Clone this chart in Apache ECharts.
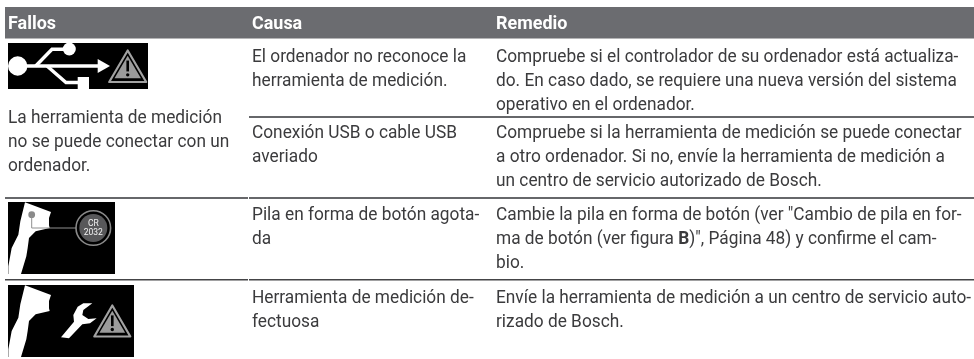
<!DOCTYPE html>
<html><head><meta charset="utf-8">
<style>html,body{margin:0;padding:0;background:#fff}#c{width:974px;height:359px}</style>
<script src="https://cdn.jsdelivr.net/npm/echarts@6/dist/echarts.min.js"></script>
</head><body><div id="c"></div>
<script>
const headers = ["Fallos", "Causa", "Remedio"];
const faultLines = ["La herramienta de medición", "no se puede conectar con un", "ordenador."];
const causeRows = [
  ["El ordenador no reconoce la", "herramienta de medición."],
  ["Conexión USB o cable USB", "averiado"],
  ["Pila en forma de botón agota-", "da"],
  ["Herramienta de medición de-", "fectuosa"]
];
const remedyRows = [
  ["Compruebe si el controlador de su ordenador está actualiza-", "do. En caso dado, se requiere una nueva versión del sistema", "operativo en el ordenador."],
  ["Compruebe si la herramienta de medición se puede conectar", "a otro ordenador. Si no, envíe la herramienta de medición a", "un centro de servicio autorizado de Bosch."],
  ["Cambie la pila en forma de botón (ver \"Cambio de pila en for-", "ma de botón (ver figura {b|B})\", Página 48) y confirme el cam-", "bio."],
  ["Envíe la herramienta de medición a un centro de servicio auto-", "rizado de Bosch."]
];
const badgeLines = ["CR", "2032"];

const FONT = "Roboto";
const FS = 18, SX = 0.96, LH = 24, INK = "#3b3b3d";
const els = [];
const rect = (x, y, w, h, fill) => els.push({type:"rect", silent:true, shape:{x, y, width:w, height:h}, style:{fill}});
const poly = (pts, fill, ox=0, oy=0, stroke, lw) => els.push({type:"polygon", silent:true, shape:{points:pts.map(p=>[p[0]+ox,p[1]+oy])}, style:{fill, stroke, lineWidth:lw||0, lineJoin:"round"}});
const pline = (pts, stroke, lw) => els.push({type:"polyline", silent:true, shape:{points:pts}, style:{stroke, lineWidth:lw, fill:null}});
const circ = (cx, cy, r, fill, stroke, lw) => els.push({type:"circle", silent:true, shape:{cx, cy, r}, style:{fill, stroke, lineWidth:lw||0}});
const text = (t, x, y, opt={}) => els.push({type:"text", silent:true, x, y, scaleX:opt.sx||SX, originX:0, style:{
  text:t, x:0, y:0, fill:opt.fill||INK, font:`${opt.weight||"normal"} ${opt.size||FS}px ${FONT}`,
  fontFamily:FONT, fontSize:opt.size||FS, fontWeight:opt.weight||"normal",
  align:opt.align||"left", verticalAlign:"middle",
  rich:{b:{fontWeight:"bold", fontFamily:FONT, fontSize:FS, fill:INK}}
}});

// table frame
rect(5, 7, 969, 31, "#6b6c70");
rect(5, 38, 969, 1, "#b4b4b6");
rect(249, 116, 725, 2, "#66676a");
rect(5, 197, 243, 2, "#66676a");
rect(249, 197, 725, 2, "#66676a");
rect(5, 279, 243, 1.5, "#444446");
rect(249, 279, 725, 1.5, "#444446");

// headers
const colX = [8, 252, 496];
headers.forEach((h,i)=>text(h, colX[i], 24, {fill:"#fff", weight:"bold", size:18.5, sx:0.97}));

// body text
const rowY = [57, 133, 215, 298];
faultLines.forEach((l,i)=>text(l, 8, 118+i*LH, {}));
causeRows.forEach((r,k)=>r.forEach((l,i)=>text(l, 252, rowY[k]+i*LH)));
remedyRows.forEach((r,k)=>r.forEach((l,i)=>text(l, 496, rowY[k]+i*LH)));

// warning triangle icon
function warn(tx, ty, base, h){
  const hb = base/2;
  poly([[tx,ty+1.5],[tx-hb+1.5,ty+h-1],[tx+hb-1.5,ty+h-1]], "#000", 0, 0, "#a2a2a2", 2.2);
  const j = 0.66;
  poly([[tx,ty+h*0.2],[tx-hb*j,ty+h*0.86],[tx+hb*j,ty+h*0.86]], "#9b9b9b");
  rect(tx-1.3, ty+h*0.34, 2.6, h*0.32, "#000");
  circ(tx, ty+h*0.76, 1.7, "#000");
}

// USB icon
rect(8, 43, 140, 46, "#000");
circ(17.7, 66, 9.7, "#fff");
pline([[18,66],[100,66]], "#fff", 3.4);
poly([[97.7,59],[110,66],[97.7,73]], "#fff");
pline([[35.7,66],[52,49.3],[68,49.3]], "#fff", 3.4);
circ(69.3, 49, 6.5, "#fff");
pline([[47,66],[66,82.5],[80,82.5]], "#fff", 3.4);
rect(77.7, 77, 11.3, 12, "#fff");
warn(127.7, 49, 40, 34);

// gun silhouette, traced in a 3x grid
const gun = [[60,13],[138,42],[132,60],[132,82],[134,90],[92,100],[72,120],[68,150],[64,175],[48,228],[10,228],[10,205],[20,150],[40,110],[46,70]];
const gunPts = gun.map(p=>[p[0]/3, p[1]/3]);
const notch = [[76,124],[86,118],[84,130],[82,146],[74,148]].map(p=>[p[0]/3,p[1]/3]);

// battery icon
rect(8, 202, 107, 72, "#000");
poly(gunPts, "#fff", 5, 198);
poly(notch, "#000", 5, 198);
circ(31.7, 214.7, 3.4, "#8a8a8a");
pline([[31.7,215],[31.7,228],[76,228]], "#8f8f8f", 1);
circ(93.3, 228, 17.3, "#000", "#8a8a8a", 1.6);
circ(93.3, 228, 14, "#58585a");
text(badgeLines[0], 93.3, 223.5, {fill:"#f4f4f4", size:8.5, sx:1, align:"center"});
text(badgeLines[1], 93.3, 232.5, {fill:"#f4f4f4", size:8.5, sx:1, align:"center"});

// defect icon
rect(8, 285, 126, 72, "#000");
poly(gunPts, "#fff", 5, 281);
poly(notch, "#000", 5, 281);
const wrench = [[262,70],[235,70],[218,80],[205,105],[207,125],[168,172],[192,175],[232,133],[255,130],[275,115],[250,117],[232,105],[235,90]];
poly(wrench.map(p=>[p[0]/3,p[1]/3]), "#fff", 5, 280);
warn(112.3, 304, 39, 33.5);

const chart = echarts.init(document.getElementById("c"), null, {renderer:"canvas"});
chart.setOption({animation:false, backgroundColor:"#fff", graphic:{elements:els}});
</script></body></html>
